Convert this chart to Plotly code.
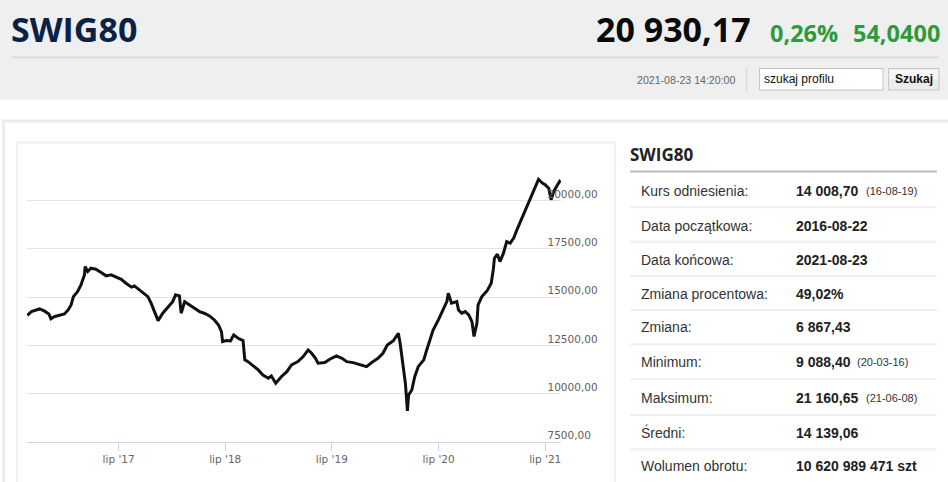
import plotly.graph_objects as go

# ---------------- data ----------------
dates = [
    "2016-08-22", "2016-09-05", "2016-10-03", "2016-10-19", "2016-11-04", "2016-11-11", "2016-11-22", "2016-12-27",
    "2017-01-09", "2017-01-19", "2017-01-27", "2017-02-10", "2017-02-22", "2017-03-06", "2017-03-08", "2017-03-17",
    "2017-03-28", "2017-04-14", "2017-05-02", "2017-05-19", "2017-06-05", "2017-06-22", "2017-07-10", "2017-07-26",
    "2017-08-14", "2017-08-24", "2017-09-11", "2017-09-27", "2017-10-09", "2017-10-20", "2017-11-01", "2017-11-13",
    "2017-11-29", "2017-12-15",
    "2018-01-02", "2018-01-12", "2018-01-25", "2018-01-31", "2018-02-12", "2018-03-01", "2018-03-19", "2018-04-04",
    "2018-04-20", "2018-05-08", "2018-05-25", "2018-06-08", "2018-06-18", "2018-06-22", "2018-07-05", "2018-07-19",
    "2018-07-30", "2018-08-14", "2018-08-31", "2018-09-06", "2018-09-17", "2018-10-04", "2018-10-22", "2018-11-07",
    "2018-11-26", "2018-12-06", "2018-12-21",
    "2019-01-09", "2019-01-28", "2019-02-13", "2019-03-07", "2019-03-25", "2019-04-11", "2019-04-23", "2019-05-06",
    "2019-05-15", "2019-06-07", "2019-06-24", "2019-07-17", "2019-08-05", "2019-08-21", "2019-09-12", "2019-10-04",
    "2019-10-28", "2019-11-14", "2019-12-06", "2019-12-23",
    "2020-01-07", "2020-01-28", "2020-02-14", "2020-02-20", "2020-02-25", "2020-03-02", "2020-03-09", "2020-03-16",
    "2020-03-20", "2020-03-31", "2020-04-10", "2020-04-22", "2020-05-11", "2020-05-21", "2020-06-02", "2020-06-12",
    "2020-06-30", "2020-07-17", "2020-07-29", "2020-08-03", "2020-08-14", "2020-09-01", "2020-09-07", "2020-09-18",
    "2020-09-30", "2020-10-12", "2020-10-23", "2020-10-30", "2020-11-09", "2020-11-13", "2020-11-26", "2020-12-14",
    "2020-12-28",
    "2021-01-04", "2021-01-08", "2021-01-18", "2021-01-27", "2021-02-08", "2021-02-19", "2021-03-03", "2021-03-15",
    "2021-03-26", "2021-04-07", "2021-04-19", "2021-04-30", "2021-05-11", "2021-05-21", "2021-06-08", "2021-06-21",
    "2021-07-01", "2021-07-13", "2021-07-21", "2021-07-30", "2021-08-11", "2021-08-19", "2021-08-23",
]
values = [
    14050, 14240, 14380, 14280, 14120, 13870, 13980, 14120,
    14330, 14590, 15020, 15280, 15630, 16150, 16580, 16320,
    16495, 16440, 16265, 16095, 16150, 16030, 15920, 15715,
    15510, 15575, 15370, 15150, 15020, 14680, 14243, 13775,
    14160, 14420,
    14760, 15110, 15060, 14160, 14760, 14590, 14420, 14243,
    14160, 14020, 13810, 13550, 13205, 12690, 12740, 12720,
    13035, 12860, 12740, 11740, 11650, 11430, 11220, 10960,
    10790, 10910, 10530,
    10870, 11130, 11480, 11650, 11910, 12255, 12085, 11825,
    11565, 11600, 11775, 11945, 11825, 11650, 11600, 11480,
    11390, 11600, 11825, 12085,
    12515, 12740, 13120, 12600, 12000, 11565, 10530, 9100,
    9920, 10180, 10870, 11390, 11740, 12255, 12775, 13290,
    13810, 14330, 14760, 15200, 14680, 14760, 14330, 14160,
    14243, 14070, 13725, 12950, 13640, 14590, 15020, 15330,
    15715,
    16405, 17010, 17220, 16835, 17270, 17875, 17790, 18050,
    18480, 18910, 19345, 19780, 20125, 20470, 21100, 20900,
    20815, 20640, 20040, 20470, 20815, 20990, 20930,
]

x_tick_vals = ["2017-07-01", "2018-07-01", "2019-07-01", "2020-07-01", "2021-07-01"]
x_tick_text = ["lip '17", "lip '18", "lip '19", "lip '20", "lip '21"]
grid_vals = [7500, 10000, 12500, 15000, 17500, 20000, 22500]
y_label_vals = [7500, 10000, 12500, 15000, 17500, 20000]
y_label_text = ["7500,00", "10000,00", "12500,00", "15000,00", "17500,00", "20000,00"]

index_name = "SWIG80"
last_price = "20 930,17"
change_pct = "0,26%"
change_abs = "54,0400"
timestamp = "2021-08-23 14:20:00"

table_labels = ["Kurs odniesienia:", "Data początkowa:", "Data końcowa:", "Zmiana procentowa:",
                "Zmiana:", "Minimum:", "Maksimum:", "Średni:", "Wolumen obrotu:"]
table_values = ["14 008,70", "2016-08-22", "2021-08-23", "49,02%", "6 867,43",
                "9 088,40", "21 160,65", "14 139,06", "10 620 989 471 szt"]
table_notes = ["(16-08-19)", "", "", "", "", "(20-03-16)", "(21-06-08)", "", ""]

# ---------------- layout helpers ----------------
W, H = 948, 482


def px(x):
    return x / W


def py(y):
    return 1 - y / H


fig = go.Figure()
fig.add_trace(go.Scatter(
    x=dates, y=values, mode="lines",
    line=dict(color="#111111", width=3),
    hoverinfo="skip", showlegend=False,
))
# invisible trace to carry the label axis
fig.add_trace(go.Scatter(
    x=[dates[0]], y=[values[0]], yaxis="y2", mode="markers",
    marker=dict(opacity=0), hoverinfo="skip", showlegend=False,
))

label_shift = 332  # labels sit a few px above their gridlines

shapes = []
# header band
shapes.append(dict(type="rect", xref="paper", yref="paper", x0=px(0), x1=px(948), y0=py(100), y1=py(0),
                   fillcolor="#efefef", line=dict(width=0), layer="below"))
shapes.append(dict(type="line", xref="paper", yref="paper", x0=px(12), x1=px(939), y0=py(57.5), y1=py(57.5),
                   line=dict(color="#dcdcdc", width=2), layer="below"))
shapes.append(dict(type="line", xref="paper", yref="paper", x0=px(746.7), x1=px(746.7), y0=py(67), y1=py(92),
                   line=dict(color="#d6d6d6", width=1), layer="below"))
# search input
shapes.append(dict(type="rect", xref="paper", yref="paper", x0=px(759.5), x1=px(883), y0=py(90), y1=py(68.5),
                   fillcolor="#ffffff", line=dict(color="#c4c4c4", width=1), layer="below"))
# button
shapes.append(dict(type="rect", xref="paper", yref="paper", x0=px(888.5), x1=px(939), y0=py(90), y1=py(68.5),
                   fillcolor="#ebebeb", line=dict(color="#c8c8c8", width=1), layer="below"))
shapes.append(dict(type="rect", xref="paper", yref="paper", x0=px(889.5), x1=px(938), y0=py(79), y1=py(69.5),
                   fillcolor="#f6f6f6", line=dict(width=0), layer="below"))
# outer panel
shapes.append(dict(type="rect", xref="paper", yref="paper", x0=px(3.5), x1=px(960), y0=py(500), y1=py(121),
                   fillcolor="rgba(0,0,0,0)", line=dict(color="#ececec", width=3), layer="below"))
# chart box
shapes.append(dict(type="rect", xref="paper", yref="paper", x0=px(17), x1=px(615), y0=py(500), y1=py(142.5),
                   fillcolor="rgba(0,0,0,0)", line=dict(color="#f0f0f0", width=2), layer="below"))
# stats panel heading underline
shapes.append(dict(type="line", xref="paper", yref="paper", x0=px(630), x1=px(937), y0=py(171.5), y1=py(171.5),
                   line=dict(color="#bdbdbd", width=2), layer="below"))
row_sep_y = [207.3, 241.7, 276, 310, 344.3, 379.3, 415, 449.3]
for yy in row_sep_y:
    shapes.append(dict(type="line", xref="paper", yref="paper", x0=px(630), x1=px(937), y0=py(yy), y1=py(yy),
                       line=dict(color="#f0f0f0", width=2), layer="below"))

ann = []


def text(x, y, s, size, color, family, xanchor="left", bold=False):
    ann.append(dict(xref="paper", yref="paper", x=px(x), y=py(y), text=("<b>%s</b>" % s) if bold else s,
                    showarrow=False, xanchor=xanchor, yanchor="middle",
                    font=dict(size=size, color=color, family=family)))


OPEN = "Open Sans, Liberation Sans, sans-serif"
ARIAL = "Liberation Sans, Arial, sans-serif"

text(9, 29, index_name, 34, "#0b2246", OPEN, bold=True)
text(753, 29, last_price, 34, "#0a0a0a", OPEN, xanchor="right", bold=True)
text(768, 33, change_pct, 23.5, "#2e9a3d", OPEN, bold=True)
text(851, 33, change_abs, 23.5, "#2e9a3d", OPEN, bold=True)
text(737, 80, timestamp, 10.6, "#666666", ARIAL, xanchor="right")
text(762, 79.5, "szukaj profilu", 12, "#111111", ARIAL)
text(913.7, 79.5, "Szukaj", 12, "#111111", ARIAL, xanchor="center", bold=True)

text(628, 155, index_name, 17, "#222222", OPEN, bold=True)

row_y = [191, 225.7, 260, 294, 327.3, 361.7, 397.7, 432.7, 466]
note_x = {0: 864, 5: 855, 6: 864}
for i in range(len(table_labels)):
    text(639, row_y[i], table_labels[i], 14, "#333333", ARIAL)
    text(793.5, row_y[i], table_values[i], 14, "#222222", ARIAL, bold=True)
    if table_notes[i]:
        text(note_x[i], row_y[i] + 0.5, table_notes[i], 11, "#333333", ARIAL)

fig.update_layout(
    width=W, height=H,
    margin=dict(l=0, r=0, t=0, b=0),
    paper_bgcolor="#ffffff",
    plot_bgcolor="rgba(0,0,0,0)",
    showlegend=False,
    shapes=shapes,
    annotations=ann,
    xaxis=dict(
        type="date",
        range=["2016-08-20", "2021-08-24"],
        domain=[px(26.7), px(561)],
        tickvals=x_tick_vals, ticktext=x_tick_text,
        ticks="outside", ticklen=8, tickcolor="#ccd6eb", tickwidth=1,
        showline=True, linecolor="#ccd6eb", linewidth=1,
        showgrid=False, zeroline=False,
        tickfont=dict(family="DejaVu Sans, Verdana, sans-serif", size=10.5, color="#666666"),
        fixedrange=True,
    ),
    yaxis=dict(
        range=[7500, 22500],
        domain=[py(441.7), py(152.3)],
        tickvals=grid_vals, showticklabels=False,
        showgrid=True, gridcolor="#e3e3e3", gridwidth=1,
        zeroline=False, showline=False, fixedrange=True,
    ),
    yaxis2=dict(
        overlaying="y", side="right", anchor="free", position=px(546.5),
        range=[7500 - label_shift, 22500 - label_shift],
        tickvals=y_label_vals, ticktext=y_label_text,
        showgrid=False, zeroline=False, showline=False, ticks="",
        tickfont=dict(family="DejaVu Sans, Verdana, sans-serif", size=10.5, color="#606060"),
        fixedrange=True,
    ),
)

fig.write_html(
    "out.html",
    config={"displayModeBar": False},
    post_script="document.body.style.margin='0';document.body.style.overflow='hidden';",
)
